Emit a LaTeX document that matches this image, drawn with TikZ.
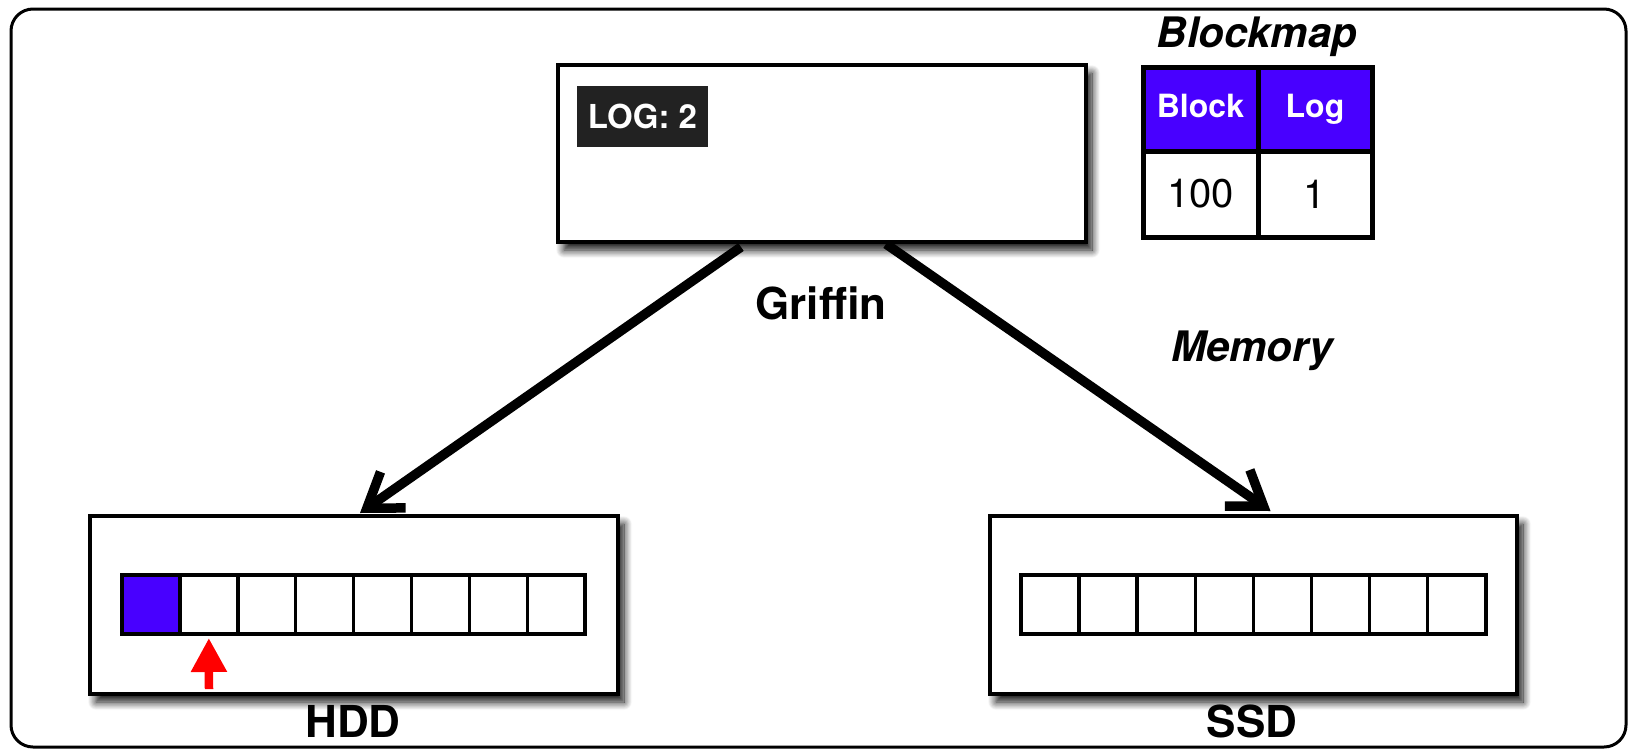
\documentclass[tikz,border=0pt]{standalone}
\usepackage{fontspec}
\setmainfont{TeX Gyre Heros}
\usetikzlibrary{arrows.meta,shadows.blur,calc}
\definecolor{blk}{RGB}{72,0,255}
\definecolor{tagbg}{RGB}{34,34,34}
\begin{document}
\begin{tikzpicture}[x=1pt,y=-1pt,
  bigbox/.style={draw=black,line width=4.5pt,fill=white,inner sep=0pt,outer sep=0pt,
    blur shadow={shadow xshift=6pt,shadow yshift=-8pt,shadow blur radius=8pt,shadow blur steps=14,shadow opacity=95}},
  cellbox/.style={draw=black,line width=3.5pt,fill=white,inner sep=0pt,outer sep=0pt,minimum height=59pt},
  tcell/.style={draw=black,line width=5pt,inner sep=0pt,outer sep=0pt},
  hdr/.style={tcell,fill=blk,text=white,minimum height=84pt,text height=22pt,text depth=6pt,
    font=\fontsize{32}{36}\selectfont\bfseries},
  val/.style={tcell,fill=white,minimum height=86pt,font=\fontsize{40}{46}\selectfont},
  lbl/.style={font=\fontsize{44}{48}\selectfont\bfseries,inner sep=0pt},
  ilbl/.style={font=\fontsize{42}{48}\selectfont\bfseries\itshape,inner sep=0pt},
  bigarrow/.style={line width=9.5pt,-{Straight Barb[length=32pt,width=44pt,line width=9.5pt,sharp]}},
]
\useasboundingbox (0,0) rectangle (1629,750);
% outer frame
\draw[line width=3pt,rounded corners=22pt] (11,9) rectangle (1626,747);

% Griffin box
\node[bigbox,minimum width=528pt,minimum height=177pt] (griffin) at (822,153.5) {};
\node[fill=tagbg,text=white,minimum width=131pt,minimum height=61pt,inner sep=0pt,
  font=\fontsize{33}{36}\selectfont\bfseries] (logtag) at (642.5,116.5) {LOG: 2};
\node[lbl] (griffinlbl) at (821,303) {Griffin};

% Blockmap table
\node[ilbl] (bmtitle) at (1257,37) {Blockmap};
\node[hdr,minimum width=115pt] (hblock) at (1200.5,109) {Block};
\node[hdr,minimum width=114pt] (hlog) at (1315,109) {Log};
\node[val,minimum width=115pt] (vblock) at (1200.5,194) {100};
\node[val,minimum width=114pt] (vlog) at (1315,194) {1};

\node[ilbl] (memlbl) at (1252,351) {Memory};

% HDD
\node[bigbox,minimum width=528pt,minimum height=178pt] (hdd) at (354,605) {};
\foreach \i in {1,...,8}{
  \node[cellbox,minimum width=57.9pt] (hc\i) at ({122+57.9*(\i-0.5)},604.5) {};
}
\node[cellbox,minimum width=57.9pt,fill=blk] (hc1) at ({122+57.9*0.5},604.5) {};
\node[lbl] (hddlbl) at (353,721) {HDD};

% SSD
\node[bigbox,minimum width=527pt,minimum height=178pt] (ssd) at (1253.5,605) {};
\foreach \i in {1,...,8}{
  \node[cellbox,minimum width=58.1pt] (sc\i) at ({1021+58.1*(\i-0.5)},604.5) {};
}
\node[lbl] (ssdlbl) at (1252,721) {SSD};

% red pointer
\coordinate (rtail) at (209,689);
\draw[red,line width=8.5pt,-{Triangle[length=34pt,width=34pt]}] (rtail) -- ([yshift=-4pt]hc2.south);

% arrows
\coordinate (gl) at (741,247);
\coordinate (gr) at (886,244);
\draw[bigarrow] (gl) -- ([xshift=6pt,yshift=3pt]hdd.north);
\draw[bigarrow] (gr) -- ([xshift=17pt,yshift=5pt]ssd.north);
\end{tikzpicture}
\end{document}
